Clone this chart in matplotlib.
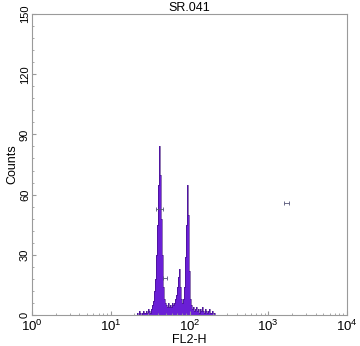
import numpy as np
import matplotlib
matplotlib.use("Agg")
import matplotlib.pyplot as plt
from matplotlib.ticker import LogLocator, MultipleLocator, NullFormatter

plt.rcParams["font.family"] = ["Liberation Sans", "DejaVu Sans"]

# histogram on a log10 channel scale
bin_start_log = 1.327
bin_width_log = 0.0127
counts = [
    1, 0, 2, 1, 0, 1, 2, 1, 1, 2, 1, 3, 2, 1,
    3, 5, 7, 12, 18, 30, 45, 65, 84, 70, 48, 30, 14, 8, 6, 5,
    4, 6, 4, 5, 4, 6, 5, 6, 8, 10, 14, 19, 23, 14, 8, 6,
    8, 14, 29, 45, 65, 50, 22, 8, 5, 3, 4, 2, 3, 4, 2, 3,
    1, 3, 2, 4, 2, 1, 3, 2, 1, 2, 3, 1, 1, 2, 1, 1, 0,
]

# region markers drawn by the cytometry software
gate_lo = [37.6, 46.0, 1585.0]
gate_hi = [46.0, 52.0, 1820.0]
gate_y = [52.8, 18.4, 55.8]

title = "SR.041"
xlabel = "FL2-H"
ylabel = "Counts"


def main():
    counts_arr = np.array(counts, dtype=float)
    edges = 10 ** (bin_start_log + bin_width_log * np.arange(len(counts_arr) + 1))

    fig = plt.figure(figsize=(3.6, 3.46), dpi=100)
    ax = fig.add_axes([32 / 360, 31 / 346, 315 / 360, 301 / 346])

    ax.stairs(counts_arr, edges, fill=True, color="#6a1fd6", lw=0)
    ax.stairs(counts_arr, edges, color="#3a0c78", lw=0.4)

    lo = np.array(gate_lo)
    hi = np.array(gate_hi)
    mid = np.sqrt(lo * hi)
    ax.errorbar(mid, gate_y, xerr=[mid - lo, hi - mid], fmt="none",
                ecolor="#555577", elinewidth=0.6, capsize=1.5, capthick=0.6)

    ax.set_xscale("log")
    ax.set_xlim(1, 1e4)
    ax.set_ylim(0, 150)
    ax.xaxis.set_major_locator(LogLocator(base=10, numticks=10))
    ax.xaxis.set_minor_locator(LogLocator(base=10, subs=np.arange(2, 10), numticks=20))
    ax.xaxis.set_minor_formatter(NullFormatter())
    ax.yaxis.set_major_locator(MultipleLocator(30))
    ax.yaxis.set_minor_locator(MultipleLocator(6))

    for side in ax.spines.values():
        side.set_color("#9a9a9a")
        side.set_linewidth(0.8)
    ax.tick_params(which="both", direction="in", color="#9a9a9a",
                   top=False, right=False, labelsize=8, pad=1.5)
    ax.tick_params(axis="x", which="major", labelsize=9.5, pad=3)
    ax.tick_params(which="major", length=3)
    ax.tick_params(which="minor", length=1.5)
    for lbl in ax.get_yticklabels():
        lbl.set_rotation(90)
        lbl.set_va("center")

    ax.set_title(title, fontsize=9, pad=1)
    ax.set_xlabel(xlabel, fontsize=9, labelpad=0)
    ax.set_ylabel(ylabel, fontsize=9, labelpad=1)

    fig.savefig("out.png", dpi=100)


if __name__ == "__main__":
    main()
